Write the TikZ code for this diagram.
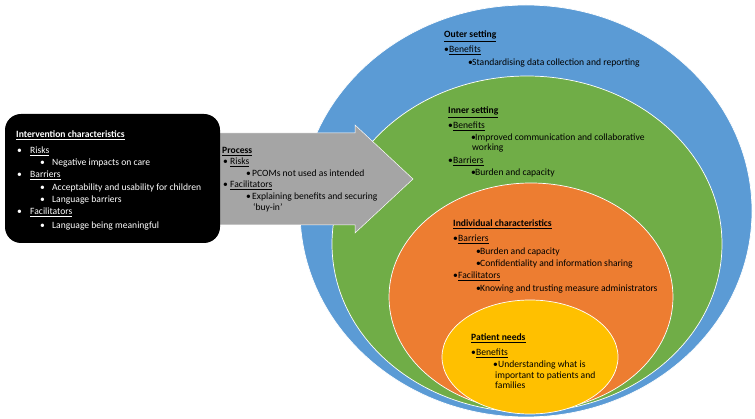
\documentclass[tikz,border=0pt]{standalone}
\usepackage{fontspec}
\setmainfont{Carlito}

\definecolor{outerblue}{HTML}{5B9BD5}
\definecolor{innergreen}{HTML}{70AD47}
\definecolor{indivorange}{HTML}{ED7D31}
\definecolor{patientyellow}{HTML}{FFC000}
\definecolor{processgray}{HTML}{A5A5A5}

\newcommand{\hd}[1]{\underline{\textbf{#1}}}
\newcommand{\subhd}[1]{\underline{#1}}
\newcommand{\bul}[1]{\makebox[#1][l]{•}}

\begin{document}
\begin{tikzpicture}[x=1pt, y=-1pt]
    % Define styles
    \tikzstyle{ring} = [draw=white, line width=0.7pt]
    \tikzstyle{textblock} = [anchor=north west, align=left, inner sep=0pt, font=\fontsize{9.6}{12.3}\selectfont]

    \useasboundingbox (0,0) rectangle (755,419);

    % Nested settings
    \filldraw [ring, fill=outerblue] (526,211) ellipse [x radius=226pt, y radius=206pt];
    \filldraw [ring, fill=innergreen] (527,244) ellipse [x radius=195pt, y radius=168pt];
    \filldraw [ring, fill=indivorange] (531,297) ellipse [x radius=142pt, y radius=114pt];
    \filldraw [ring, fill=patientyellow] (530,357) ellipse [x radius=88pt, y radius=57pt];

    % Process arrow and intervention box
    \filldraw [draw=white, line width=0.5pt, fill=processgray]
        (218,133) -- (355,133) -- (355,125) -- (413,179) -- (355,233) -- (355,225) -- (218,225) -- cycle;
    \fill [black, rounded corners=16pt] (5,114) rectangle (220,243);

    % Texts
    \node [textblock, text=white] (intervention) at (16,131) {%
        \hd{Intervention characteristics}\\[3pt]
        \hspace*{1pt}\bul{13pt}\subhd{Risks}\\
        \hspace*{24pt}\bul{12pt}Negative impacts on care\\
        \hspace*{1pt}\bul{13pt}\subhd{Barriers}\\
        \hspace*{24pt}\bul{12pt}Acceptability and usability for children\\
        \hspace*{24pt}\bul{12pt}Language barriers\\
        \hspace*{1pt}\bul{13pt}\subhd{Facilitators}\\[1pt]
        \hspace*{24pt}\bul{12pt}Language being meaningful};

    \node [textblock, font=\fontsize{9.6}{11.4}\selectfont] (process) at (222,147) {%
        \hd{Process}\\
        \hspace*{1pt}\bul{7pt}\subhd{Risks}\\
        \hspace*{24pt}\bul{6pt}PCOMs not used as intended\\
        \hspace*{1pt}\bul{7pt}\subhd{Facilitators}\\
        \hspace*{24pt}\bul{6pt}Explaining benefits and securing\\
        \hspace*{31pt}‘buy-in’};

    \node [textblock] (outer) at (444,31) {%
        \hd{Outer setting}\\[2.7pt]
        \bul{5pt}\subhd{Benefits}\\
        \hspace*{24pt}\bul{4pt}Standardising data collection and reporting};

    \node [textblock] (inner) at (448,107) {%
        \hd{Inner setting}\\[2pt]
        \bul{5pt}\subhd{Benefits}\\
        \hspace*{23pt}\bul{4pt}Improved communication and collaborative\\[-2pt]
        \hspace*{24pt}working\\[0.5pt]
        \bul{5pt}\subhd{Barriers}\\
        \hspace*{23pt}\bul{4pt}Burden and capacity};

    \node [textblock] (individual) at (453,220) {%
        \hd{Individual characteristics}\\[2.7pt]
        \bul{5pt}\subhd{Barriers}\\
        \hspace*{23pt}\bul{4pt}Burden and capacity\\
        \hspace*{23pt}\bul{4pt}Confidentiality and information sharing\\
        \bul{5pt}\subhd{Facilitators}\\
        \hspace*{23pt}\bul{4pt}Knowing and trusting measure administrators};

    \node [textblock] (patient) at (471,334) {%
        \hd{Patient needs}\\[2pt]
        \bul{5pt}\subhd{Benefits}\\
        \hspace*{22pt}\bul{5pt}Understanding what is\\[-1.5pt]
        \hspace*{24pt}important to patients and\\[-2pt]
        \hspace*{24pt}families};
\end{tikzpicture}
\end{document}
